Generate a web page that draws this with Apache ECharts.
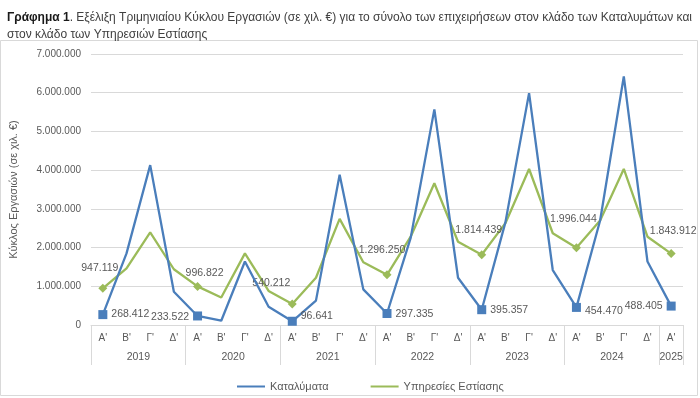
<!DOCTYPE html>
<html>
<head>
<meta charset="utf-8">
<script src="https://cdn.jsdelivr.net/npm/echarts@6/dist/echarts.min.js"></script>
<style>html,body{margin:0;padding:0;background:#fff;}#c{width:700px;height:398px;}</style>
</head>
<body>
<div id="c"></div>
<script>
const quarters = ["Α'", "Β'", "Γ'", "Δ'", "Α'", "Β'", "Γ'", "Δ'", "Α'", "Β'", "Γ'", "Δ'", "Α'", "Β'", "Γ'", "Δ'", "Α'", "Β'", "Γ'", "Δ'", "Α'", "Β'", "Γ'", "Δ'", "Α'"];
const years = ["2019", "2020", "2021", "2022", "2023", "2024", "2025"];
const yearQuarterCounts = [4, 4, 4, 4, 4, 4, 1];
const accommodation = [268412, 1850000, 4130000, 860000, 233522, 110000, 1640000, 470000, 96641, 630000, 3880000, 920000, 297335, 2250000, 5570000, 1220000, 395357, 2650000, 5990000, 1420000, 454470, 2700000, 6420000, 1640000, 488405];
const foodService = [947119, 1460000, 2390000, 1440000, 996822, 710000, 1850000, 880000, 540212, 1220000, 2740000, 1620000, 1296250, 2280000, 3660000, 2150000, 1814439, 2630000, 4030000, 2370000, 1996044, 2700000, 4030000, 2280000, 1843912];
const yTicks = [0, 1000000, 2000000, 3000000, 4000000, 5000000, 6000000, 7000000];

const fmt = v => String(Math.round(v)).replace(/\B(?=(\d{3})+(?!\d))/g, '.');
const FONT = 'Liberation Sans';
const TXT = '#595959';

// label placement for labelled (Α') points
const blueLabelPos = ['right', 'left', 'right', 'right', 'right', 'right', 'left'];
const blueLabelOff = [[0, 0], [0, 1], [0, -5], [0, 1], [0, 0], [0, 4], [0, 0]];
const greenLabelOff = [[-3, -5], [7, 2], [-21, -6], [-5, -10], [-3, -10], [-3, -14], [2, -8]];

// second-level axis: 2 slots per quarter, boundaryGap false => 51 points
const nSlots = quarters.length * 2 + 1;
const slotLabels = new Array(nSlots).fill('');
const slotTicks = new Set();
let start = 0;
years.forEach((y, i) => {
  const q = yearQuarterCounts[i];
  slotTicks.add(start * 2);
  slotLabels[start * 2 + q] = y;
  start += q;
});
slotTicks.add(start * 2);

function buildData(values, isBlue) {
  let k = 0;
  return values.map((v, i) => {
    if (i % 4 !== 0) return { value: v };
    const j = k++;
    return {
      value: v,
      symbolSize: 9,
      label: isBlue
        ? { show: true, position: blueLabelPos[j], offset: blueLabelOff[j], distance: 4 }
        : { show: true, position: 'top', offset: greenLabelOff[j], distance: 5 }
    };
  });
}

const chart = echarts.init(document.getElementById('c'), null, { renderer: 'canvas' });
chart.setOption({
  animation: false,
  backgroundColor: '#fff',
  textStyle: { fontFamily: FONT },
  title: {
    left: 2, top: 4,
    text: '{b|Γράφημα 1}. Εξέλιξη Τριμηνιαίου Κύκλου Εργασιών (σε χιλ. €) για το σύνολο των επιχειρήσεων στον κλάδο των Καταλυμάτων και\nστον κλάδο των Υπηρεσιών Εστίασης',
    textStyle: {
      fontFamily: FONT, fontSize: 12, fontWeight: 'normal', color: '#404040', lineHeight: 17,
      rich: { b: { fontFamily: FONT, fontSize: 12, fontWeight: 'bold', color: '#1a1a1a', lineHeight: 17 } }
    }
  },
  graphic: [{
    type: 'rect', shape: { x: 0.5, y: 40.5, width: 697, height: 355 },
    style: { fill: 'none', stroke: '#d9d9d9', lineWidth: 1 }, silent: true, z: -1
  }],
  legend: {
    left: 232, top: 376,
    itemWidth: 28, itemHeight: 2, itemGap: 42, icon: 'rect',
    textStyle: { fontFamily: FONT, fontSize: 11, color: TXT },
    data: ['Καταλύματα', 'Υπηρεσίες Εστίασης']
  },
  grid: { left: 91, right: 17, top: 54, bottom: 73 },
  xAxis: [{
    type: 'category', data: quarters, boundaryGap: true,
    axisLine: { lineStyle: { color: '#d9d9d9' } },
    axisTick: { show: false },
    axisLabel: { interval: 0, fontFamily: FONT, fontSize: 10, color: TXT, margin: 8 }
  }, {
    type: 'category', data: slotLabels, boundaryGap: false, position: 'bottom',
    axisLine: { show: false },
    axisTick: { show: true, length: 40, interval: (i) => slotTicks.has(i), lineStyle: { color: '#d9d9d9' } },
    axisLabel: { interval: (i, v) => v !== '', fontFamily: FONT, fontSize: 10.5, color: TXT, margin: 27 }
  }],
  yAxis: {
    type: 'value', min: yTicks[0], max: yTicks[yTicks.length - 1], interval: yTicks[1] - yTicks[0],
    name: 'Κύκλος Εργασιών (σε χιλ. €)', nameLocation: 'middle', nameGap: 72, nameRotate: 90,
    nameTextStyle: { fontFamily: FONT, fontSize: 11, color: TXT },
    axisLine: { show: false }, axisTick: { show: false },
    axisLabel: { formatter: fmt, fontFamily: FONT, fontSize: 10, color: TXT, margin: 10 },
    splitLine: { lineStyle: { color: '#d9d9d9' } }
  },
  series: [{
    name: 'Καταλύματα', type: 'line', data: buildData(accommodation, true),
    symbol: 'rect', symbolSize: 0, showAllSymbol: true,
    lineStyle: { color: '#4A7EBB', width: 2.3 }, itemStyle: { color: '#4A7EBB' },
    label: { formatter: p => fmt(p.value), fontFamily: FONT, fontSize: 10.5, color: TXT },
    z: 3
  }, {
    name: 'Υπηρεσίες Εστίασης', type: 'line', data: buildData(foodService, false),
    symbol: 'diamond', symbolSize: 0, showAllSymbol: true,
    lineStyle: { color: '#9BBB59', width: 2.3 }, itemStyle: { color: '#9BBB59' },
    label: { formatter: p => fmt(p.value), fontFamily: FONT, fontSize: 10.5, color: TXT },
    z: 2
  }]
});
</script>
</body>
</html>
